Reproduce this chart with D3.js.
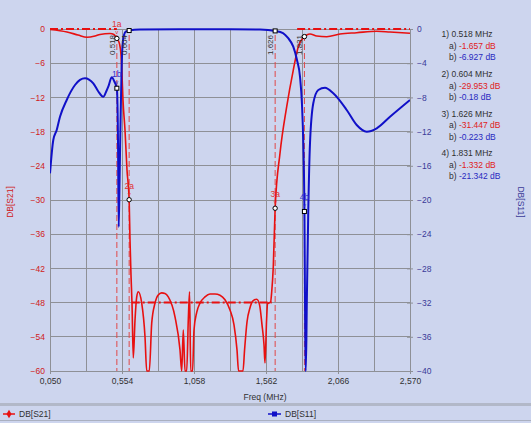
<!DOCTYPE html>
<html><head><meta charset="utf-8">
<script src="https://cdn.jsdelivr.net/npm/d3@7"></script>
<style>
html,body{margin:0;padding:0;background:#cdd5ee;}
svg{display:block;font-family:"Liberation Sans",Arial,sans-serif;}
</style>
</head><body>
<svg id="chart" width="531" height="423"></svg>
<script>
// ---- data ----
const s21Freq = [0.050,0.169,0.246,0.309,0.365,0.400,0.470,0.498,0.518,0.537,0.547,0.554,0.561,0.575,0.589,0.604,0.610,0.617,0.624,0.633,0.645,0.657,0.668,0.692,0.715,0.727,0.745,0.762,0.785,0.806,0.832,0.855,0.878,0.925,0.960,0.972,0.983,0.995,1.007,1.018,1.027,1.035,1.048,1.058,1.077,1.100,1.135,1.170,1.205,1.240,1.275,1.310,1.338,1.359,1.370,1.401,1.412,1.429,1.450,1.471,1.497,1.517,1.534,1.548,1.555,1.566,1.573,1.594,1.602,1.613,1.626,1.660,1.707,1.753,1.788,1.831,1.847,1.870,1.917,1.987,2.080,2.197,2.337,2.430,2.570];
const s21Db = [-0.09,-0.53,-1.05,-1.46,-1.23,-0.96,-0.79,-0.96,-1.657,-2.63,-4.56,-8.07,-12.46,-17.72,-24.74,-29.953,-37.0,-43.2,-48.1,-57.7,-51.1,-47.0,-46.1,-48.1,-54.0,-60,-60,-51.6,-48.1,-46.7,-46.3,-46.4,-47.0,-50.5,-56.3,-60,-52.8,-60,-60,-51.1,-46.1,-60,-60,-52.8,-49.7,-48.1,-47.0,-46.5,-46.5,-46.7,-47.5,-49.3,-51.9,-56.3,-60,-60,-56.3,-51.4,-48.9,-47.7,-47.4,-48.4,-51.9,-55.4,-58.6,-51.1,-48.2,-47.9,-46.1,-41.7,-31.447,-21.8,-13.6,-7.2,-3.1,-1.332,-1.05,-0.88,-1.23,-1.35,-0.88,-0.65,-0.40,-0.53,-0.75];

const s11Freq = [0.050,0.073,0.097,0.120,0.167,0.225,0.260,0.295,0.323,0.353,0.386,0.423,0.442,0.458,0.482,0.502,0.518,0.526,0.531,0.537,0.544,0.551,0.558,0.568,0.582,0.604,0.680,0.960,1.310,1.520,1.626,1.681,1.716,1.753,1.779,1.800,1.814,1.823,1.831,1.835,1.839,1.841,1.848,1.858,1.870,1.893,1.928,1.975,2.033,2.127,2.197,2.267,2.337,2.430,2.570];
const s11Db = [-16.88,-12.98,-11.81,-10.26,-8.30,-6.55,-5.96,-5.77,-5.91,-6.35,-7.25,-7.92,-7.37,-6.75,-5.65,-6.20,-6.927,-12.98,-23.16,-17.66,-10.64,-4.80,-1.87,-0.70,-0.29,-0.18,-0.06,-0.02,-0.02,-0.06,-0.223,-0.47,-1.05,-2.07,-3.63,-5.58,-8.89,-13.33,-21.342,-31.7,-40,-40,-31.7,-21.2,-13.37,-8.69,-7.13,-6.87,-7.52,-9.47,-11.23,-12.01,-11.61,-10.26,-8.30];

const markerFreq = [0.518,0.604,1.626,1.831];
const markerFreqText = ["0.518","0.604","1.626","1.831"];
const markerA = [-1.657,-29.953,-31.447,-1.332];
const markerB = [-6.927,-0.18,-0.223,-21.342];
const markerAText = ["-1.657","-29.953","-31.447","-1.332"];
const markerBText = ["-6.927","-0.18","-0.223","-21.342"];
const markerAShown = [true,true,true,false];
const markerBShown = [true,false,false,true];

const limitStart = [0.050,0.622,1.780];
const limitEnd = [0.518,1.602,2.570];
const limitDb = [0,-48,0];

const xGridValues = [0.050,0.302,0.554,0.806,1.058,1.310,1.562,1.814,2.066,2.318,2.570];
const xTickValues = [0.050,0.554,1.058,1.562,2.066,2.570];
const xTickLabels = ["0,050","0,554","1,058","1,562","2,066","2,570"];
const leftTickValues = [0,-6,-12,-18,-24,-30,-36,-42,-48,-54,-60];
const rightTickValues = [0,-4,-8,-12,-16,-20,-24,-28,-32,-36,-40];

// ---- layout ----
const svg = d3.select("#chart");
const L = 50, R = 410, T = 29, B = 371;
const x = d3.scaleLinear().domain([0.05,2.57]).range([L,R]);
const yL = d3.scaleLinear().domain([-60,0]).range([B,T]);
const yR = d3.scaleLinear().domain([-40,0]).range([B,T]);
const RED = "#e81010", BLUE = "#1010c8", GRID = "#8e9096";

svg.append("rect").attr("width",531).attr("height",423).attr("fill","#cdd5ee");
svg.append("defs").append("clipPath").attr("id","clip")
  .append("rect").attr("x",L).attr("y",T-3).attr("width",R-L).attr("height",B-T+4);

// grid
svg.append("g").selectAll("line").data(xGridValues).join("line")
  .attr("x1",d=>x(d)).attr("x2",d=>x(d)).attr("y1",T).attr("y2",B)
  .attr("stroke",GRID).attr("stroke-width",1).attr("shape-rendering","crispEdges");
svg.append("g").selectAll("line").data(leftTickValues).join("line")
  .attr("x1",L).attr("x2",R).attr("y1",d=>yL(d)).attr("y2",d=>yL(d))
  .attr("stroke",GRID).attr("stroke-width",1).attr("shape-rendering","crispEdges");

// axes
const gx = svg.append("g").attr("transform",`translate(0,${B})`)
  .call(d3.axisBottom(x).tickValues(xTickValues).tickFormat((d,i)=>xTickLabels[i]).tickSizeInner(3).tickSizeOuter(0).tickPadding(4));
gx.select(".domain").attr("stroke",GRID);
gx.selectAll(".tick line").attr("stroke",GRID);
gx.selectAll("text").attr("fill","#303030").attr("font-size","8.5px").attr("font-family","Liberation Sans, Arial, sans-serif");

const gl = svg.append("g").attr("transform",`translate(${L},0)`)
  .call(d3.axisLeft(yL).tickValues(leftTickValues).tickSizeInner(0).tickSizeOuter(0).tickPadding(5));
gl.select(".domain").attr("stroke",GRID);
gl.selectAll("text").attr("fill","#d02020").attr("font-size","8.5px").attr("font-family","Liberation Sans, Arial, sans-serif");

const gr = svg.append("g").attr("transform",`translate(${R},0)`)
  .call(d3.axisRight(yR).tickValues(rightTickValues).tickSizeInner(3).tickSizeOuter(0).tickPadding(4));
gr.select(".domain").attr("stroke",GRID);
gr.selectAll(".tick line").attr("stroke",GRID).attr("x1",-3);
gr.selectAll("text").attr("fill","#3a3a98").attr("font-size","8.5px").attr("font-family","Liberation Sans, Arial, sans-serif");

// axis titles
svg.append("text").attr("x",265).attr("y",400).attr("text-anchor","middle")
  .attr("font-size","8.5px").attr("fill","#303030").text("Freq (MHz)");
svg.append("text").attr("transform","translate(13,202) rotate(-90)").attr("text-anchor","middle")
  .attr("font-size","8.5px").attr("fill","#d02020").text("DB[S21]");
svg.append("text").attr("transform","translate(518,202) rotate(90)").attr("text-anchor","middle")
  .attr("font-size","8.5px").attr("fill","#3a3a98").text("DB[S11]");

// limit lines
const plot = svg.append("g").attr("clip-path","url(#clip)");
plot.selectAll(".lim").data(limitDb).join("line").attr("class","lim")
  .attr("x1",(d,i)=>x(limitStart[i])).attr("x2",(d,i)=>x(limitEnd[i]))
  .attr("y1",d=>yL(d)).attr("y2",d=>yL(d))
  .attr("stroke",RED).attr("stroke-width",2).attr("stroke-dasharray","8,3,2,3");

// marker dashed verticals
plot.selectAll(".mv").data(markerFreq).join("line").attr("class","mv")
  .attr("x1",d=>x(d)).attr("x2",d=>x(d)).attr("y1",T+6).attr("y2",B)
  .attr("stroke","#e04848").attr("stroke-width",1).attr("stroke-dasharray","6,3");

// curves
const s21 = s21Freq.map((f,i)=>[f,s21Db[i]]);
const s11 = s11Freq.map((f,i)=>[f,s11Db[i]]);
plot.append("path").datum(s21)
  .attr("d",d3.line().curve(d3.curveMonotoneX).x(d=>x(d[0])).y(d=>yL(d[1])))
  .attr("fill","none").attr("stroke",RED).attr("stroke-width",1.6).attr("stroke-linejoin","round");
plot.append("path").datum(s11)
  .attr("d",d3.line().curve(d3.curveMonotoneX).x(d=>x(d[0])).y(d=>yR(d[1])))
  .attr("fill","none").attr("stroke",BLUE).attr("stroke-width",2).attr("stroke-linejoin","round");

// markers
const mg = svg.append("g");
markerFreq.forEach((f,i)=>{
  const mx = x(f), ya = yL(markerA[i]), yb = yR(markerB[i]);
  mg.append("text").attr("transform",`translate(${mx-2},35) rotate(-90)`)
    .attr("text-anchor","end").attr("font-size","8px").attr("fill","#303030").text(markerFreqText[i]);
  mg.append("circle").attr("cx",mx).attr("cy",ya).attr("r",2.2)
    .attr("fill","#fff").attr("stroke","#000").attr("stroke-width",1);
  mg.append("rect").attr("x",mx-2).attr("y",yb-2).attr("width",4).attr("height",4)
    .attr("fill","#fff").attr("stroke","#000").attr("stroke-width",1);
  if (markerAShown[i]) {
    mg.append("text").attr("x",mx).attr("y",ya-11).attr("text-anchor","middle")
      .attr("font-size","8.5px").attr("fill","#e03030").text((i+1)+"a");
    mg.append("text").attr("x",mx).attr("y",ya-4).attr("text-anchor","middle")
      .attr("font-size","6px").attr("fill","#e03030").text("v");
  }
  if (markerBShown[i]) {
    mg.append("text").attr("x",mx).attr("y",yb-11).attr("text-anchor","middle")
      .attr("font-size","8.5px").attr("fill","#3030d0").text((i+1)+"b");
    mg.append("text").attr("x",mx).attr("y",yb-4).attr("text-anchor","middle")
      .attr("font-size","6px").attr("fill","#3030d0").text("v");
  }
});

// marker readout panel
const panel = svg.append("g").attr("font-size","8.5px");
markerFreq.forEach((f,i)=>{
  const y0 = 37.3 + i*39.7;
  panel.append("text").attr("x",441.5).attr("y",y0).attr("fill","#303030")
    .text(`${i+1}) ${markerFreqText[i]} MHz`);
  const ta = panel.append("text").attr("x",449).attr("y",y0+11.5).attr("fill","#303030");
  ta.append("tspan").text("a) ");
  ta.append("tspan").attr("fill","#e02020").text(markerAText[i]+" dB");
  const tb = panel.append("text").attr("x",449).attr("y",y0+22.8).attr("fill","#303030");
  tb.append("tspan").text("b) ");
  tb.append("tspan").attr("fill","#2828c0").text(markerBText[i]+" dB");
});

// bottom legend
svg.append("rect").attr("x",0).attr("y",403).attr("width",531).attr("height",3).attr("fill","#b2b8c8");
svg.append("rect").attr("x",0).attr("y",420).attr("width",531).attr("height",1).attr("fill","#aab0c0");
const lg = svg.append("g").attr("font-size","8.5px");
lg.append("line").attr("x1",3).attr("x2",15).attr("y1",414).attr("y2",414).attr("stroke",RED).attr("stroke-width",1.5);
lg.append("path").attr("d",d3.symbol(d3.symbolDiamond,22)()).attr("transform","translate(9,414)").attr("fill",RED);
lg.append("text").attr("x",19).attr("y",417).attr("fill","#303030").text("DB[S21]");
lg.append("line").attr("x1",268).attr("x2",281).attr("y1",414).attr("y2",414).attr("stroke",BLUE).attr("stroke-width",1.5);
lg.append("rect").attr("x",272).attr("y",411.5).attr("width",5).attr("height",5).attr("fill",BLUE);
lg.append("text").attr("x",285).attr("y",417).attr("fill","#303030").text("DB[S11]");
</script>
</body></html>
